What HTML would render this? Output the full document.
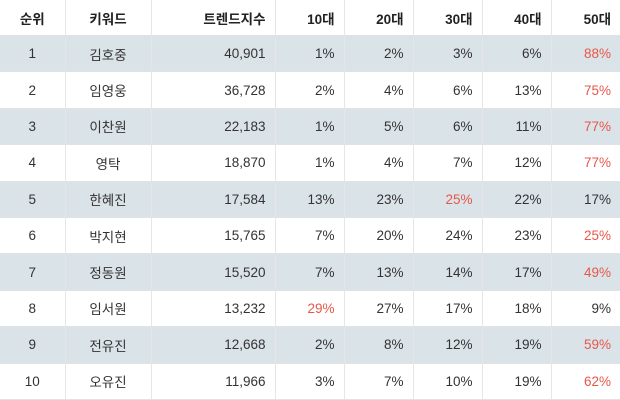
<!DOCTYPE html>
<html><head><meta charset="utf-8"><style>
body{margin:0;width:620px;height:400px;overflow:hidden;background:#fff;font-family:"Liberation Sans","Noto Sans CJK KR",sans-serif;}
table{border-collapse:collapse;width:620px;table-layout:fixed;font-size:13.5px;color:#333;}
td,th{border-bottom:1px solid #e2e2e2;border-left:1px solid #e6e6e6;padding:0 9px;height:35.4px;}
tr>*:first-child{border-left:none;}
th{font-weight:bold;color:#222;height:35px;}
.c{text-align:center}.r{text-align:right}
tr.s td{background:#dae3e8;}
.red{color:#e8574a;}
</style></head><body>
<table>
<colgroup><col style="width:65px"><col style="width:86px"><col style="width:124px"><col style="width:69px"><col style="width:69px"><col style="width:69px"><col style="width:69px"><col style="width:69px"></colgroup>
<thead><tr>
<th class="c">순위</th>
<th class="c">키워드</th>
<th class="r">트렌드지수</th>
<th class="r">10대</th>
<th class="r">20대</th>
<th class="r">30대</th>
<th class="r">40대</th>
<th class="r">50대</th>
</tr></thead>
<tbody id="tb"></tbody></table>
<script>
const names=["김호중","임영웅","이찬원","영탁","한혜진","박지현","정동원","임서원","전유진","오유진"];
const scores=["40,901","36,728","22,183","18,870","17,584","15,765","15,520","13,232","12,668","11,966"];
const a10=[1,2,1,1,13,7,7,29,2,3];
const a20=[2,4,5,4,23,20,13,27,8,7];
const a30=[3,6,6,7,25,24,14,17,12,10];
const a40=[6,13,11,12,22,23,17,18,19,19];
const a50=[88,75,77,77,17,25,49,9,59,62];
const tb=document.getElementById('tb');
names.forEach((n,i)=>{
  const tr=document.createElement('tr');
  
  
  if(i%2===0)tr.className='s';
  const ages=[a10[i],a20[i],a30[i],a40[i],a50[i]];
  const mx=Math.max(...ages);
  const cells=[[String(i+1),'c','rank'],[n,'c','keyword'],[scores[i],'r','trend-index']];
  ages.forEach((v,k)=>cells.push([v+'%','r'+(v===mx?' red':''),'age'+(k+1)*10]));
  cells.forEach(c=>{
    const td=document.createElement('td');
    td.textContent=c[0];td.className=c[1];
    
    
    tr.appendChild(td);
  });
  tb.appendChild(tr);
});
</script>
</body></html>
